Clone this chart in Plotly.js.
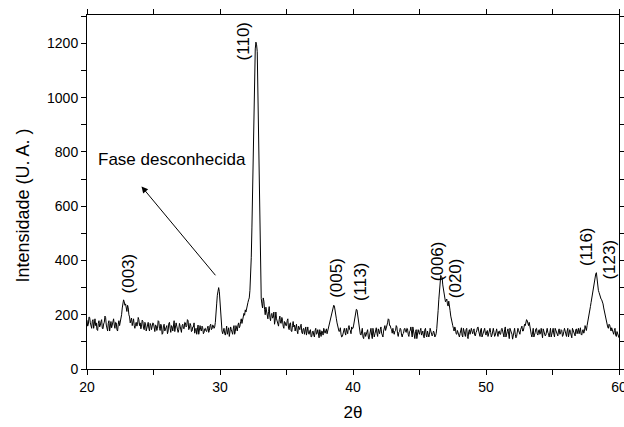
<!DOCTYPE html>
<html>
<head>
<meta charset="utf-8">
<script src="https://cdn.plot.ly/plotly-3.0.1.min.js"></script>
<style>html,body{margin:0;padding:0;background:#fff;}#chart{width:624px;height:427px;}</style>
</head>
<body>
<div id="chart"></div>
<script>
// 2θ grid: start and step (degrees)
const startAngle = 20;
const angleStep = 0.05;

// Intensity, 0.05° steps
const intensity20to30 = [
  180,158,165,192,190,170,158,150,176,182,150,165,185,160,170,145,142,168,178,155,
  160,175,182,150,148,166,172,195,190,162,155,140,168,178,140,160,175,152,162,180,
  185,162,150,172,170,145,140,165,178,160,172,185,200,225,238,255,248,235,240,218,
  212,235,226,200,192,170,178,188,160,172,185,160,150,165,172,158,165,190,182,160,
  170,148,158,180,176,150,145,172,168,140,150,165,172,150,140,168,162,145,155,170,
  168,150,138,162,160,142,150,178,175,150,142,165,158,128,132,160,165,140,148,158,
  160,130,140,168,172,150,135,160,155,140,165,178,138,150,170,158,150,135,145,168,
  158,142,135,160,165,150,148,172,170,155,160,182,178,145,150,168,162,138,140,155,
  155,170,132,145,150,128,145,162,128,140,160,145,140,158,152,130,135,148,150,140,
  138,150,158,135,142,160,165,145,148,162,160,150,155,172,195,240,272,295,300,285
];
const intensity30to40 = [
  245,200,165,140,130,148,150,132,125,140,158,128,140,152,120,138,155,145,135,128,
  148,160,128,138,160,145,140,162,170,152,158,175,185,168,178,192,205,198,218,210,
  228,235,245,255,262,290,330,410,520,660,820,960,1100,1180,1205,1195,1170,1010,820,640,
  480,340,260,240,225,262,250,220,200,228,215,195,185,212,230,190,178,200,205,188,
  190,210,165,180,210,185,175,160,158,182,195,170,168,190,180,158,150,175,172,160,
  160,178,185,150,145,168,170,140,138,160,175,155,162,140,150,165,140,130,158,150,
  145,160,165,135,130,148,150,128,138,155,125,140,155,132,128,140,145,118,120,138,
  140,125,118,142,150,128,132,145,125,115,145,130,120,140,138,125,150,142,132,140,
  148,130,140,155,160,172,178,195,200,218,222,235,232,220,205,185,170,160,150,138,
  140,152,128,118,120,135,145,150,135,125,150,140,130,152,160,145,142,130,155,148
];
const intensity40to50 = [
  150,162,175,198,205,220,218,200,190,165,140,128,125,140,150,118,112,130,135,120,
  128,140,145,118,110,125,138,150,125,112,150,138,118,130,140,152,132,120,148,140,
  130,145,155,132,125,118,140,150,160,142,150,165,170,185,182,160,160,150,145,132,
  150,135,128,140,142,160,155,130,120,135,138,150,145,125,118,130,132,148,150,138,
  135,150,148,128,120,138,142,155,130,118,155,140,125,112,138,145,112,130,145,135,
  128,142,150,125,132,140,120,115,145,150,125,118,140,132,118,128,150,140,130,122,
  128,140,135,118,122,130,150,175,215,255,300,330,345,338,338,310,290,270,262,248,
  252,258,240,232,250,238,215,195,178,170,160,150,140,155,150,130,128,142,135,122,
  118,130,140,152,125,118,150,142,132,120,145,150,120,112,138,145,128,135,150,138,
  130,142,148,125,122,135,140,152,155,140,128,120,145,150,118,128,138,145,150,132
];
const intensity50to60 = [
  125,138,142,120,130,148,150,135,118,125,145,150,135,120,125,140,148,132,120,138,
  140,128,128,145,150,140,132,118,145,155,118,125,138,148,125,112,150,142,135,128,
  110,125,142,150,128,115,120,135,150,142,135,128,145,155,158,140,140,152,165,160,
  170,182,178,165,160,172,150,135,128,118,142,150,118,125,135,148,150,130,125,140,
  145,128,132,150,120,115,148,140,138,122,125,150,150,135,130,118,142,150,118,130,
  140,150,128,118,150,142,135,125,122,140,148,128,130,145,142,120,125,138,150,140,
  132,120,140,150,118,128,145,135,128,115,150,142,135,125,122,145,148,130,138,150,
  130,142,152,128,125,140,145,132,138,160,150,142,160,178,192,205,215,230,245,262,
  275,292,310,328,342,350,355,330,300,290,282,270,265,258,255,248,240,225,212,195,
  182,170,168,155,150,165,162,145,140,152,145,130,128,142,150,125,120,138,132,120,
  115
];

// Peak labels (Miller indices) with position (2θ) and label base intensity
const peakLabels = ["(003)", "(110)", "(005)", "(113)", "(006)", "(020)", "(116)", "(123)"];
const peakAngles = [23.1, 31.8, 38.8, 40.55, 46.35, 47.7, 57.6, 59.3];
const peakLabelBase = [272, 1130, 255, 244, 318, 255, 373, 321];

// Unknown-phase note
const noteText = "Fase desconhecida";
const noteX = 20.7, noteY = 772;
const arrowHead = [24.1, 673];
const arrowTail = [29.75, 340];

// Axis texts and ticks
const xTitle = "2θ";
const yTitle = "Intensidade (U. A. )";
const xTickVals = [20, 25, 30, 35, 40, 45, 50, 55, 60];
const xTickText = ["20", "", "30", "", "40", "", "50", "", "60"];
const yTickVals = [0,100,200,300,400,500,600,700,800,900,1000,1100,1200,1300];
const yTickText = ["0","","200","","400","","600","","800","","1000","","1200",""];

const intensity = intensity20to30.concat(intensity30to40, intensity40to50, intensity50to60);

const font = "Liberation Sans, Arial, Helvetica, sans-serif";

const trace = {
  type: "scatter",
  mode: "lines",
  x0: startAngle,
  dx: angleStep,
  y: intensity,
  line: {color: "#000", width: 1},
  hoverinfo: "skip",
  showlegend: false
};

const annotations = peakLabels.map((t, i) => ({
  x: peakAngles[i], y: peakLabelBase[i], xref: "x", yref: "y",
  text: t, textangle: -90, showarrow: false,
  xanchor: "center", yanchor: "bottom",
  font: {family: font, size: 17, color: "#000"}
}));
annotations.push({
  x: noteX, y: noteY, xref: "x", yref: "y", text: noteText, showarrow: false,
  xanchor: "left", yanchor: "middle",
  font: {family: font, size: 17, color: "#000"}
});
annotations.push({
  x: arrowHead[0], y: arrowHead[1], xref: "x", yref: "y",
  ax: arrowTail[0], ay: arrowTail[1], axref: "x", ayref: "y",
  text: "", showarrow: true, arrowhead: 2, arrowsize: 1.3, arrowwidth: 1, arrowcolor: "#000"
});
// y-axis title, placed like the reference (slightly below the plot centre)
annotations.push({
  x: -0.12, y: 0.462, xref: "paper", yref: "paper",
  text: yTitle, textangle: -90, showarrow: false,
  xanchor: "center", yanchor: "middle",
  font: {family: font, size: 18, color: "#000"}
});

const axisCommon = {
  showline: true, linecolor: "#000", linewidth: 1, mirror: "ticks",
  ticks: "outside", ticklen: 5, tickwidth: 1, tickcolor: "#000",
  showgrid: false, zeroline: false, ticklabeloverflow: "allow",
  tickfont: {family: font, size: 14, color: "#000"}
};

const layout = {
  width: 624, height: 427,
  margin: {l: 87, r: 5, t: 15, b: 58},
  paper_bgcolor: "#fff", plot_bgcolor: "#fff",
  xaxis: Object.assign({}, axisCommon, {
    range: [20, 60], tickmode: "array", tickvals: xTickVals, ticktext: xTickText,
    title: {text: xTitle, font: {family: font, size: 17, color: "#000"}, standoff: 12}
  }),
  yaxis: Object.assign({}, axisCommon, {
    range: [0, 1305], tickmode: "array", tickvals: yTickVals, ticktext: yTickText
  }),
  annotations: annotations
};

Plotly.newPlot("chart", [trace], layout, {staticPlot: true, displayModeBar: false});
</script>
</body>
</html>
